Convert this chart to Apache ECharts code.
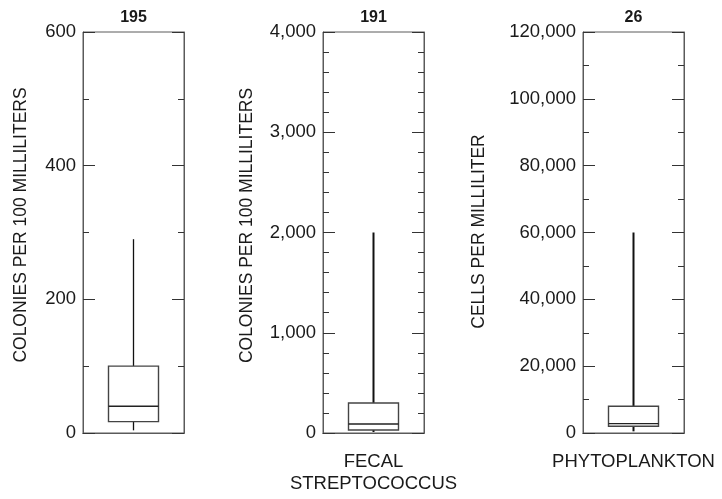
<!DOCTYPE html>
<html><head><meta charset="utf-8">
<script src="https://cdn.jsdelivr.net/npm/echarts@6/dist/echarts.min.js"></script>
<style>html,body{margin:0;padding:0;background:#fff}#c{width:722px;height:499px}</style>
</head><body><div id="c"></div>
<script>
// Data
const categories = ["", "FECAL\nSTREPTOCOCCUS", "PHYTOPLANKTON"];
const sampleCounts = ["195", "191", "26"];
const yTitles = ["COLONIES PER 100 MILLILITERS", "COLONIES PER 100 MILLILITERS", "CELLS PER MILLILITER"];
// [min, Q1, median, Q3, max]
const fecalColiform = [4, 17, 40, 100, 290];
const fecalStrep = [10, 30, 90, 300, 2000];
const phytoplankton = [500, 2000, 2800, 8000, 60000];
const yMax = [600, 4000, 120000];
const yInterval = [200, 1000, 20000];
const minorSplit = [2, 5, 2];

const boxes = [fecalColiform, fecalStrep, phytoplankton];
const lefts = [83, 323, 583];
const nameGaps = [53, 67, 95];
const namePad = [[0, 0, 0, 15], [0, 0, 0, 14], [0, 0, 0, 2]];
const whiskerW = [1.3, 2, 2];
const font = "Liberation Sans, Arial, Helvetica, sans-serif";
const frame = '#5a5a5a';

const grid = [], xAxis = [], yAxis = [], series = [];
for (let i = 0; i < 3; i++) {
  grid.push({left: lefts[i], top: 32, width: 101, height: 401, show: true, borderColor: frame, borderWidth: 1, backgroundColor: 'transparent'});
  xAxis.push({type: 'category', gridIndex: i, data: [categories[i]], position: 'bottom',
    axisLine: {show: true, lineStyle: {color: '#222', width: 1}}, axisTick: {show: false},
    axisLabel: {color: '#1a1a1a', fontSize: 18.5, fontFamily: font, margin: 18, lineHeight: 22}});
  xAxis.push({type: 'category', gridIndex: i, data: [sampleCounts[i]], position: 'top',
    axisLine: {show: true, lineStyle: {color: frame}}, axisTick: {show: false},
    axisLabel: {color: '#1a1a1a', fontSize: 16, fontWeight: 'bold', fontFamily: font, margin: 6}});
  const common = {type: 'value', gridIndex: i, min: 0, max: yMax[i], interval: yInterval[i],
    splitLine: {show: false},
    axisLine: {show: true, lineStyle: {color: frame, width: 1}},
    axisTick: {show: true, inside: true, length: 12, lineStyle: {color: '#333', width: 1}},
    minorTick: {show: true, splitNumber: minorSplit[i], length: 6, lineStyle: {color: '#333', width: 1}}};
  yAxis.push(Object.assign({}, common, {position: 'left', name: yTitles[i], nameLocation: 'middle', nameGap: nameGaps[i],
    nameTextStyle: {color: '#1a1a1a', fontSize: 17.5, fontFamily: font, padding: namePad[i]},
    axisLabel: {color: '#1a1a1a', fontSize: 18.5, fontFamily: font, margin: 7,
      formatter: v => v.toLocaleString('en-US')}}));
  yAxis.push(Object.assign({}, common, {position: 'right', axisLabel: {show: false}}));
  const ww = whiskerW[i];
  series.push({type: 'custom', xAxisIndex: 2 * i, yAxisIndex: 2 * i, silent: true,
    data: [[0].concat(boxes[i])],
    renderItem: function (params, api) {
      const x = api.coord([api.value(0), 0])[0];
      const yMin = api.coord([0, api.value(1)])[1];
      const yQ1 = api.coord([0, api.value(2)])[1];
      const yMed = api.coord([0, api.value(3)])[1];
      const yQ3 = api.coord([0, api.value(4)])[1];
      const yMx = api.coord([0, api.value(5)])[1];
      const hw = 25;
      return {type: 'group', children: [
        {type: 'line', shape: {x1: x, y1: yQ3, x2: x, y2: yMx}, style: {stroke: '#111', lineWidth: ww}},
        {type: 'line', shape: {x1: x, y1: yQ1, x2: x, y2: yMin}, style: {stroke: '#111', lineWidth: ww}},
        {type: 'rect', shape: {x: x - hw, y: yQ3, width: 2 * hw, height: yQ1 - yQ3}, style: {stroke: '#444', lineWidth: 1.4, fill: '#fff'}},
        {type: 'line', shape: {x1: x - hw, y1: yMed, x2: x + hw, y2: yMed}, style: {stroke: '#222', lineWidth: 1.3}}
      ]};
    }});
}

const chart = echarts.init(document.getElementById('c'), null, {renderer: 'canvas'});
chart.setOption({animation: false, backgroundColor: '#fff', grid, xAxis, yAxis, series});
</script></body></html>
